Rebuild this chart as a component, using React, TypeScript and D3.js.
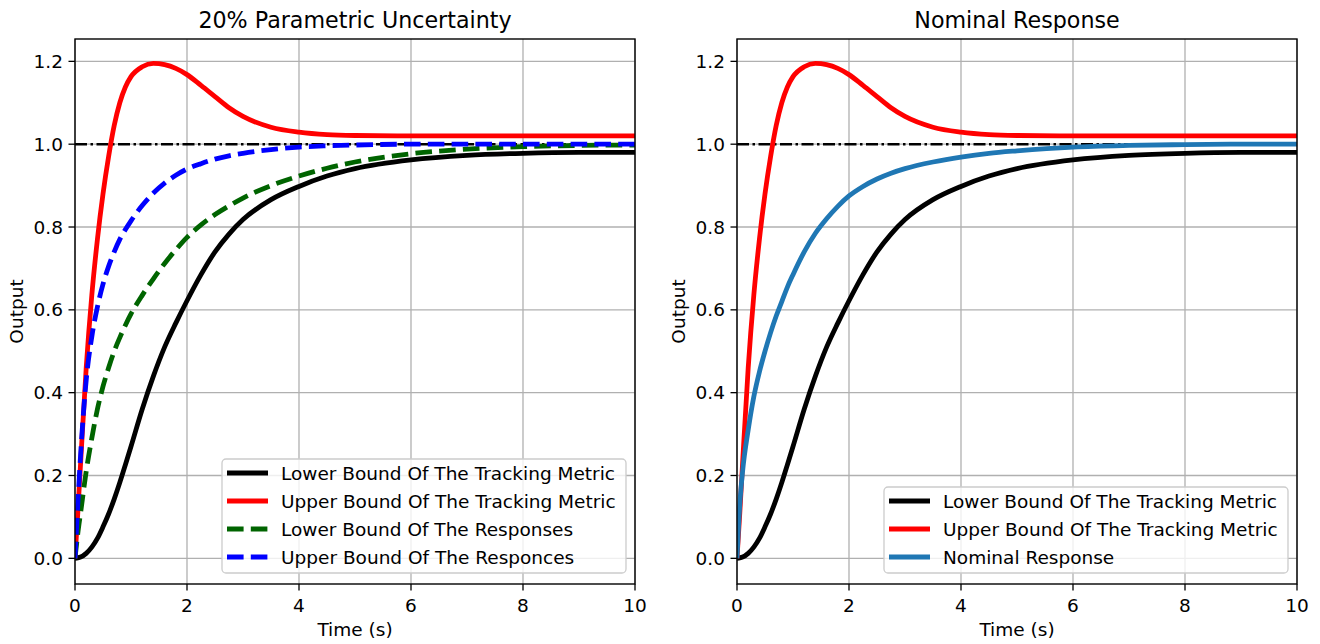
import * as d3 from 'd3'

// sample times (s) shared by every series
const TIME = [0, 0.05, 0.1, 0.2, 0.3, 0.4, 0.5, 0.6, 0.7, 0.8, 0.9, 1.0, 1.2, 1.4, 1.6, 1.8, 2.0, 2.25, 2.5, 2.75, 3.0, 3.5, 4.0, 4.5, 5.0, 6.0, 7.0, 8.0, 9.0, 10.0]

const lowerTrack = [0, 0.001, 0.003, 0.012, 0.027, 0.048, 0.076, 0.107, 0.143, 0.183, 0.226, 0.27, 0.36, 0.44, 0.51, 0.568, 0.622, 0.685, 0.74, 0.783, 0.818, 0.866, 0.898, 0.923, 0.941, 0.962, 0.973, 0.978, 0.98, 0.98]
const upperTrack = [0, 0.11, 0.23, 0.46, 0.635, 0.77, 0.88, 0.97, 1.045, 1.1, 1.138, 1.163, 1.187, 1.195, 1.192, 1.183, 1.168, 1.142, 1.115, 1.088, 1.067, 1.041, 1.029, 1.023, 1.021, 1.02, 1.02, 1.02, 1.02, 1.02]
const lowerResp = [0, 0.06, 0.11, 0.21, 0.29, 0.36, 0.415, 0.46, 0.5, 0.533, 0.563, 0.59, 0.635, 0.675, 0.712, 0.745, 0.775, 0.805, 0.83, 0.851, 0.87, 0.9, 0.923, 0.942, 0.957, 0.977, 0.988, 0.994, 0.997, 0.998]
const upperResp = [0, 0.13, 0.25, 0.43, 0.535, 0.607, 0.662, 0.705, 0.74, 0.77, 0.794, 0.815, 0.852, 0.882, 0.906, 0.925, 0.94, 0.953, 0.964, 0.972, 0.978, 0.987, 0.993, 0.996, 0.998, 1.0, 1.0, 1.0, 1.0, 1.0]
const nominal = [0, 0.13, 0.21, 0.31, 0.39, 0.45, 0.5, 0.545, 0.585, 0.62, 0.655, 0.685, 0.74, 0.785, 0.82, 0.85, 0.875, 0.898, 0.916, 0.93, 0.941, 0.957, 0.969, 0.978, 0.984, 0.993, 0.997, 0.999, 1.0, 1.0]

const X_TICKS = [0, 2, 4, 6, 8, 10]
const Y_TICKS = [0, 0.2, 0.4, 0.6, 0.8, 1.0, 1.2]
const REFERENCE = 1.0

const FONT = 'DejaVu Sans, sans-serif'
const FS = 18.5

interface Series {
  label: string
  values: number[]
  color: string
  dash?: string
}

interface PanelProps {
  id: string
  left: number
  title: string
  series: Series[]
  legendTop: number
}

const W = 560
const TOP = 39
const BOTTOM = 584

function Panel({ id, left, title, series, legendTop }: PanelProps) {
  const x = d3.scaleLinear().domain([0, 10]).range([left, left + W])
  const y = d3.scaleLinear().domain([-0.062, 1.254]).range([BOTTOM, TOP])
  const line = d3.line<[number, number]>()
    .x(d => x(d[0]))
    .y(d => y(d[1]))
    .curve(d3.curveMonotoneX)

  const legendLeft = left + 147
  const legendW = 404
  const rowH = 28
  const legendH = series.length * rowH + 2

  return (
    <g>
      <defs>
        <clipPath id={`clip-${id}`}>
          <rect x={left} y={TOP} width={W} height={BOTTOM - TOP} />
        </clipPath>
      </defs>
      {/* grid */}
      {X_TICKS.map(t => (
        <line key={`gx${t}`} x1={x(t)} x2={x(t)} y1={TOP} y2={BOTTOM} stroke="#b0b0b0" strokeWidth={1.3} />
      ))}
      {Y_TICKS.map(t => (
        <line key={`gy${t}`} x1={left} x2={left + W} y1={y(t)} y2={y(t)} stroke="#b0b0b0" strokeWidth={1.3} />
      ))}

      <g clipPath={`url(#clip-${id})`}>
        <line x1={x(0)} x2={x(10)} y1={y(REFERENCE)} y2={y(REFERENCE)}
          stroke="#000" strokeWidth={2.6} strokeDasharray="12,3.5,2.5,3.5" />
        {series.map(s => (
          <path key={s.label}
            d={line(TIME.map((t, i) => [t, s.values[i]] as [number, number])) ?? ''}
            fill="none" stroke={s.color} strokeWidth={4.8}
            strokeDasharray={s.dash} />
        ))}
      </g>

      {/* spines */}
      <rect x={left} y={TOP} width={W} height={BOTTOM - TOP} fill="none" stroke="#000" strokeWidth={1.4} />

      {/* ticks */}
      {X_TICKS.map(t => (
        <g key={`tx${t}`}>
          <line x1={x(t)} x2={x(t)} y1={BOTTOM} y2={BOTTOM + 6.5} stroke="#000" strokeWidth={1.3} />
          <text x={x(t)} y={BOTTOM + 27.5} textAnchor="middle" fontFamily={FONT} fontSize={FS} fill="#000">{t}</text>
        </g>
      ))}
      {Y_TICKS.map(t => (
        <g key={`ty${t}`}>
          <line x1={left - 6.5} x2={left} y1={y(t)} y2={y(t)} stroke="#000" strokeWidth={1.3} />
          <text x={left - 12} y={y(t) + 6.6} textAnchor="end" fontFamily={FONT} fontSize={FS} fill="#000">{t.toFixed(1)}</text>
        </g>
      ))}

      {/* labels */}
      <text x={left + W / 2} y={28} textAnchor="middle" fontFamily={FONT} fontSize={22.2} fill="#000">{title}</text>
      <text x={left + W / 2} y={636} textAnchor="middle" fontFamily={FONT} fontSize={FS} fill="#000">Time (s)</text>
      <text transform={`translate(${left - 52},${(TOP + BOTTOM) / 2}) rotate(-90)`} textAnchor="middle"
        fontFamily={FONT} fontSize={FS} fill="#000">Output</text>

      {/* legend */}
      <g transform={`translate(${legendLeft},${legendTop})`}>
        <rect x={0} y={0} width={legendW} height={legendH} rx={4} fill="#fff" fillOpacity={0.8} stroke="#cccccc" strokeWidth={1.3} />
        {series.map((s, i) => (
          <g key={s.label} transform={`translate(0,${14 + i * rowH})`}>
            <line x1={5} x2={46} y1={0} y2={0} stroke={s.color} strokeWidth={4.8} strokeDasharray={s.dash} />
            <text x={59} y={6.6} fontFamily={FONT} fontSize={FS} fill="#000">{s.label}</text>
          </g>
        ))}
      </g>
    </g>
  )
}

export default function App() {
  const leftSeries: Series[] = [
    { label: 'Lower Bound Of The Tracking Metric', values: lowerTrack, color: '#000000' },
    { label: 'Upper Bound Of The Tracking Metric', values: upperTrack, color: '#ff0000' },
    { label: 'Lower Bound Of The Responses', values: lowerResp, color: '#006400', dash: '16.6,7.2' },
    { label: 'Upper Bound Of The Responces', values: upperResp, color: '#0000ff', dash: '16.6,7.2' },
  ]
  const rightSeries: Series[] = [
    { label: 'Lower Bound Of The Tracking Metric', values: lowerTrack, color: '#000000' },
    { label: 'Upper Bound Of The Tracking Metric', values: upperTrack, color: '#ff0000' },
    { label: 'Nominal Response', values: nominal, color: '#1f77b4' },
  ]
  return (
    <svg width={1320} height={644} style={{ position: 'absolute', left: 0, top: 0, background: '#fff' }}>
      <rect width={1320} height={644} fill="#fff" />
      <Panel id="a" left={75} title="20% Parametric Uncertainty" series={leftSeries} legendTop={459} />
      <Panel id="b" left={737} title="Nominal Response" series={rightSeries} legendTop={487} />
    </svg>
  )
}
